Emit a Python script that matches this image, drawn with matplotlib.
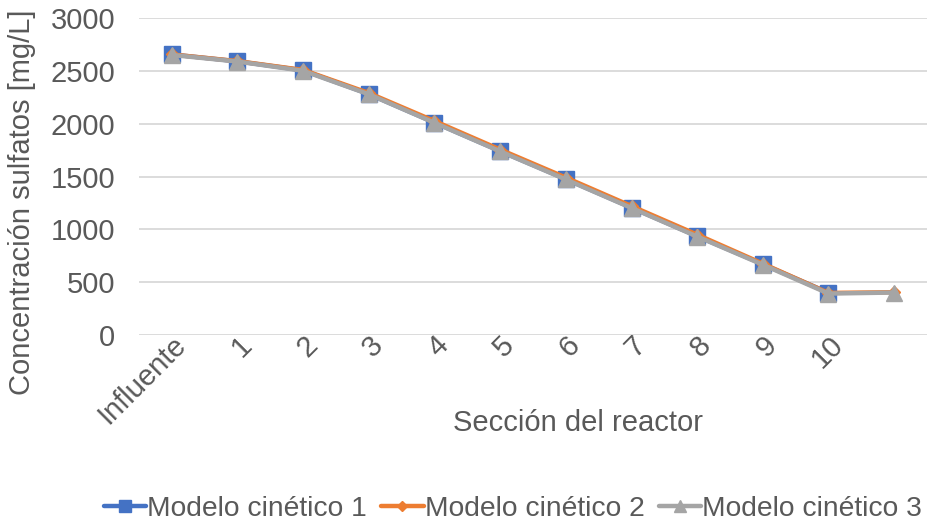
import matplotlib
matplotlib.use("Agg")
import matplotlib.pyplot as plt
import numpy as np

plt.rcParams['font.family'] = ['Liberation Sans', 'DejaVu Sans']

categories = ["Influente", "1", "2", "3", "4", "5", "6", "7", "8", "9", "10", ""]
modelo1 = [2655, 2590, 2505, 2280, 2010, 1740, 1475, 1205, 935, 670, 400, None]
modelo2 = [2655, 2592, 2508, 2290, 2025, 1755, 1490, 1220, 950, 675, 398, 405]
modelo3 = [2650, 2588, 2500, 2278, 2008, 1738, 1472, 1202, 932, 665, 392, 402]

series = [
    ("Modelo cinético 1", modelo1, "#4472C4", "s", 11),
    ("Modelo cinético 2", modelo2, "#ED7D31", "D", 6),
    ("Modelo cinético 3", modelo3, "#A5A5A5", "^", 11),
]

text_color = "#595959"
fs = 21
W, H = 932, 531
fig = plt.figure(figsize=(W / 100, H / 100), dpi=100)
ax = fig.add_axes([139 / W, 1 - 335 / H, (927 - 139) / W, (335 - 18) / H])

x = np.arange(len(categories))
for name, vals, color, marker, ms in series:
    y = np.array([np.nan if v is None else v for v in vals], dtype=float)
    ax.plot(x, y, color=color, lw=3.2, marker=marker, ms=ms, label=name,
            markeredgecolor=color, markerfacecolor=color, solid_capstyle='round',
            solid_joinstyle='round', zorder=3)

ax.set_xlim(-0.5, len(categories) - 0.5)
ax.set_ylim(0, 3000)
ax.set_yticks(np.arange(0, 3001, 500))
ax.yaxis.grid(True, color="#D9D9D9", lw=1.3)
ax.set_axisbelow(True)
for s in ax.spines.values():
    s.set_visible(False)
ax.tick_params(axis='both', length=0, labelsize=fs, labelcolor=text_color)
ax.tick_params(axis='y', pad=17)
ax.set_xticks(x)
ax.set_xticklabels(categories, rotation=45, ha='right', rotation_mode='anchor')
ax.tick_params(axis='x', pad=-3)

fig.text(22 / W, 1 - 202 / H, "Concentración sulfatos [mg/L]", rotation=90,
         ha='center', va='center', fontsize=fs, color=text_color)
fig.text(578 / W, 1 - 423 / H, "Sección del reactor", ha='center', va='center',
         fontsize=fs, color=text_color)

leg = fig.legend(loc='center', bbox_to_anchor=(513 / W, 1 - 509 / H), ncol=3,
                 frameon=False, fontsize=20.3, handlelength=1.5, handletextpad=0.05,
                 columnspacing=0.5, markerscale=0.8)
for t in leg.get_texts():
    t.set_color(text_color)

fig.savefig("out.png", dpi=100)
